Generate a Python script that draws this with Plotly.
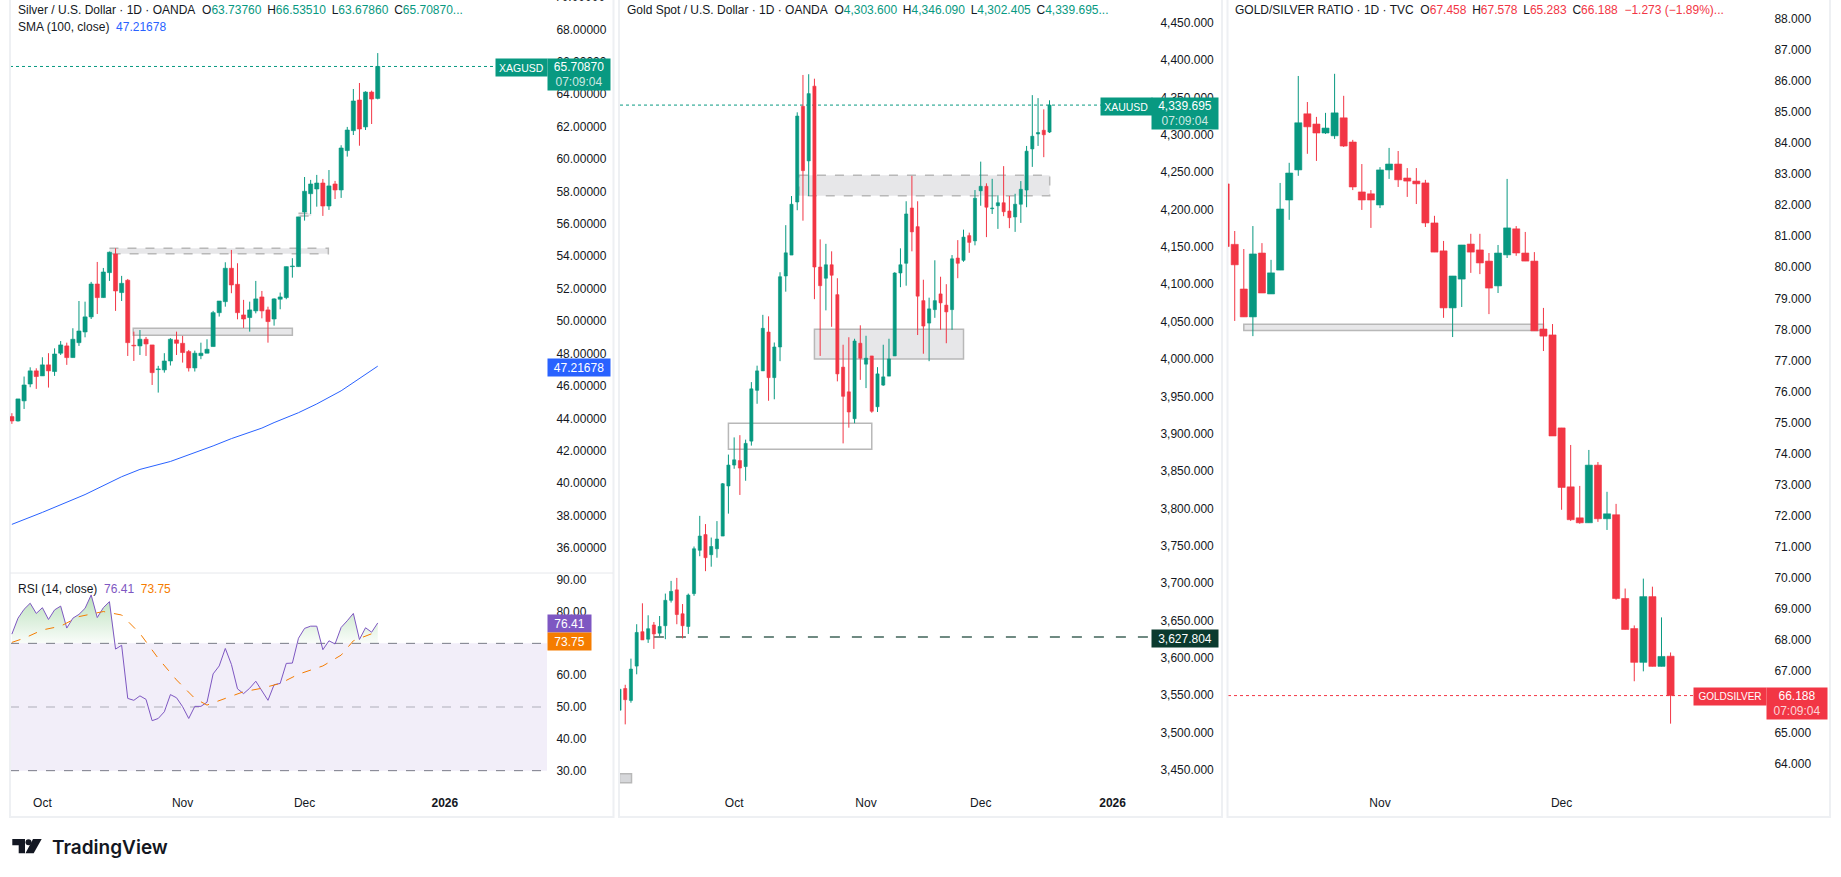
"""Three TradingView daily panes: silver with SMA and RSI, gold spot, gold/silver ratio."""

import plotly.graph_objects as go

WIDTH, HEIGHT = 1841, 877
UP, DOWN = "#089981", "#f23645"
TEXT = "#131722"
FONT = "Liberation Sans"

# silver, 1D, OANDA
SILVER_OPEN = [44.11, 43.84, 45.08, 46.12, 46.93, 46.62, 47.30, 46.89, 48.02, 48.47, 47.75, 48.67, 49.33, 50.26, 52.29, 51.45,
               52.99, 54.14, 51.76, 52.52, 48.51, 48.47, 48.88, 48.53, 47.01, 46.99, 47.54, 48.84, 48.63, 48.12, 47.11, 47.87,
               48.02, 48.43, 50.52, 51.20, 53.26, 52.27, 50.38, 50.22, 50.63, 51.49, 50.69, 50.13, 51.35, 51.45, 53.36, 53.36,
               56.73, 57.86, 58.15, 58.52, 57.10, 58.46, 58.09, 60.52, 61.75, 63.64, 61.98, 64.13, 63.7376]
SILVER_HIGH = [44.32, 45.20, 46.58, 47.15, 47.09, 47.77, 48.02, 48.32, 48.77, 48.67, 49.56, 51.24, 51.20, 52.42, 53.65, 53.28,
               54.29, 54.49, 52.79, 52.60, 49.35, 49.45, 49.02, 48.53, 47.24, 48.02, 48.95, 49.35, 49.09, 48.22, 48.18, 48.67,
               48.88, 50.63, 51.24, 53.63, 54.39, 53.57, 51.31, 51.20, 52.48, 51.86, 50.89, 51.41, 51.76, 53.36, 53.88, 56.43,
               58.89, 58.71, 59.02, 58.77, 59.32, 58.65, 60.85, 61.98, 64.32, 64.69, 64.18, 64.22, 66.5351]
SILVER_LOW = [43.66, 43.80, 44.58, 45.92, 45.82, 46.62, 45.90, 46.62, 47.91, 47.30, 47.75, 48.47, 49.00, 50.13, 50.44, 51.45,
              52.48, 50.63, 51.24, 47.85, 47.54, 47.91, 47.85, 46.06, 45.59, 46.82, 47.26, 47.91, 47.44, 46.89, 46.89, 47.65,
              48.02, 48.43, 50.28, 50.89, 51.72, 50.11, 49.58, 49.35, 50.48, 50.17, 48.67, 49.72, 50.73, 51.35, 52.68, 53.36,
              56.20, 56.61, 57.06, 56.49, 56.86, 57.53, 57.60, 60.15, 61.48, 60.82, 61.79, 62.16, 63.6786]
SILVER_CLOSE = [43.84, 45.20, 46.06, 46.93, 46.58, 47.30, 46.93, 47.97, 48.53, 47.75, 48.88, 49.39, 50.26, 52.29, 51.45, 53.03,
                54.25, 51.86, 52.33, 48.67, 48.47, 48.88, 48.59, 46.82, 47.05, 47.54, 48.88, 48.63, 48.06, 47.11, 48.02, 48.02,
                48.26, 50.52, 51.24, 53.26, 52.23, 50.52, 50.13, 50.69, 51.37, 50.63, 49.97, 51.37, 51.49, 53.36, 53.40, 56.43,
                58.01, 58.46, 58.52, 57.10, 58.34, 58.09, 60.68, 61.79, 63.58, 61.85, 64.13, 63.70, 65.7087]
SMA_BARS = [0, 5, 12, 17, 18, 21, 26, 33, 36, 41, 43, 47, 50, 54, 55, 60]
SMA_VALUES = [37.46, 38.20, 39.30, 40.20, 40.40, 40.85, 41.34, 42.30, 42.75, 43.40, 43.74, 44.35, 44.89, 45.70, 45.95, 47.22]
RSI_VALUES = [72.9, 77.9, 80.7, 82.6, 79.4, 81.2, 77.5, 80.5, 81.7, 74.8, 77.9, 79.1, 81.0, 85.2, 78.1, 81.2,
              83.1, 68.2, 69.4, 52.7, 52.1, 53.5, 52.4, 45.7, 46.4, 48.5, 53.9, 52.9, 50.1, 46.4, 50.2, 50.2,
              51.5, 60.4, 62.9, 68.4, 63.4, 55.7, 54.2, 55.9, 58.1, 55.3, 52.1, 57.0, 57.4, 63.7, 63.8, 71.6,
              74.7, 75.4, 75.4, 68.0, 70.8, 69.8, 75.0, 77.1, 79.4, 71.2, 74.9, 73.5, 76.41]
RSI_MA_BARS = [0, 2, 5, 8, 11, 15, 18, 21, 24, 27, 30, 32, 35, 38, 41, 44, 47, 51, 54, 56, 60]
RSI_MA_VALUES = [70.3, 71.6, 74.2, 75.4, 78.4, 80.0, 78.9, 73.1, 65.3, 58.5, 52.7, 50.6, 52.7, 54.8, 55.9, 57.4, 60.3, 62.9, 66.3, 70.8, 73.75]
SILVER_TICKS = [5, 28, 48, 71]
SILVER_PRICE_TICKS = list(range(36, 70, 2))
RSI_TICKS = [30, 40, 50, 60, 70, 80, 90]

# gold spot, 1D, OANDA
GOLD_OPEN = [3530, 3559, 3543, 3589, 3635, 3625, 3644, 3633, 3643, 3677, 3691, 3659, 3642, 3686, 3744, 3765, 3738, 3746, 3763,
             3830, 3858, 3864, 3856, 3890, 3958, 3984, 4036, 3975, 4016, 4111, 4139, 4210, 4338, 4265, 4365, 4123, 4108, 4126,
             4086, 3989, 3956, 3920, 4021, 3993, 4004, 3936, 3965, 3977, 4004, 4115, 4128, 4202, 4177, 4078, 4048, 4066, 4087,
             4072, 4066, 4135, 4132, 4165, 4158, 4225, 4231, 4201, 4205, 4209, 4198, 4190, 4207, 4226, 4281, 4301, 4306, 4303.6]
GOLD_HIGH = [3578, 3564, 3599, 3645, 3673, 3657, 3648, 3656, 3686, 3703, 3707, 3672, 3686, 3749, 3790, 3779, 3761, 3783, 3834,
             3872, 3895, 3898, 3892, 3969, 3991, 4059, 4057, 4022, 4116, 4179, 4218, 4330, 4380, 4381, 4375, 4160, 4154, 4144,
             4108, 4019, 4029, 4027, 4045, 4031, 4004, 3989, 4019, 4027, 4116, 4148, 4211, 4245, 4211, 4106, 4082, 4132, 4110,
             4100, 4139, 4159, 4173, 4169, 4226, 4264, 4235, 4241, 4219, 4258, 4218, 4221, 4238, 4285, 4353, 4349, 4334, 4346.09]
GOLD_LOW = [3526, 3511, 3540, 3578, 3624, 3620, 3612, 3629, 3625, 3674, 3645, 3626, 3632, 3683, 3736, 3716, 3722, 3734, 3763,
            3793, 3853, 3818, 3837, 3884, 3940, 3984, 3944, 3946, 3997, 4090, 4139, 4199, 4185, 4218, 4080, 4004, 4065, 4043,
            3970, 3887, 3908, 3914, 3972, 3961, 3928, 3929, 3964, 3977, 4004, 4096, 4098, 4144, 4032, 4007, 3997, 4055, 4039,
            4021, 4039, 4108, 4130, 4142, 4152, 4205, 4163, 4194, 4174, 4191, 4175, 4170, 4182, 4203, 4257, 4285, 4270, 4302.405]
GOLD_CLOSE = [3558, 3544, 3585, 3634, 3624, 3639, 3632, 3642, 3677, 3689, 3658, 3643, 3684, 3746, 3763, 3734, 3749, 3759, 3833,
              3858, 3865, 3854, 3887, 3960, 3984, 4041, 3975, 4016, 4110, 4142, 4207, 4325, 4252, 4355, 4123, 4098, 4126, 4112,
              3980, 3950, 3929, 4024, 4001, 4001, 3930, 3980, 3976, 4000, 4115, 4126, 4194, 4170, 4084, 4044, 4067, 4078, 4075,
              4063, 4134, 4128, 4163, 4156, 4215, 4231, 4203, 4202, 4209, 4197, 4189, 4207, 4227, 4278, 4298, 4303, 4300, 4339.695]
GOLD_TICKS = [20, 43, 63, 86]
GOLD_PRICE_TICKS = list(range(3450, 4500, 50))
GOLD_LEVEL = 3627.804

# gold/silver ratio, 1D, TVC
RATIO_OPEN = [82.69, 80.74, 79.30, 78.40, 80.46, 79.14, 79.91, 82.17, 83.14, 84.95, 84.62, 84.33, 84.24, 84.82, 84.04, 82.43, 82.37,
              82.01, 83.14, 83.33, 82.88, 82.78, 82.72, 81.43, 80.53, 78.69, 79.62, 80.75, 80.56, 80.20, 79.40, 80.40, 81.24, 80.46,
              80.20, 78.01, 77.82, 74.82, 72.92, 71.92, 71.76, 73.62, 71.89, 72.02, 69.32, 68.35, 67.26, 69.38, 67.13, 67.458]
RATIO_HIGH = [82.69, 81.17, 80.59, 81.33, 80.78, 80.24, 82.72, 83.37, 86.17, 85.33, 84.85, 84.98, 86.24, 85.53, 84.11, 83.33, 82.49,
              83.23, 83.85, 83.75, 83.20, 83.20, 82.82, 81.66, 80.85, 79.72, 80.72, 81.08, 81.08, 80.46, 80.72, 82.85, 81.33, 81.14,
              80.49, 78.69, 78.17, 74.82, 74.27, 72.95, 74.11, 73.72, 72.76, 72.37, 69.64, 68.45, 69.96, 69.70, 68.71, 67.578]
RATIO_LOW = [80.67, 78.27, 78.40, 77.78, 79.17, 79.14, 79.91, 81.53, 82.95, 83.66, 83.43, 84.30, 84.14, 83.88, 82.49, 81.85, 81.27,
             81.91, 82.85, 82.59, 82.27, 82.04, 81.30, 80.49, 78.37, 77.75, 78.72, 79.82, 79.78, 78.49, 79.17, 80.30, 80.37, 80.20,
             77.95, 77.30, 74.56, 72.18, 71.82, 71.73, 71.76, 71.79, 71.53, 69.28, 68.32, 66.65, 66.97, 67.13, 67.13, 65.283]
RATIO_CLOSE = [80.67, 80.08, 78.40, 80.43, 79.17, 79.82, 81.88, 83.04, 84.66, 84.53, 84.33, 84.49, 84.98, 83.91, 82.59, 82.17, 82.17,
               83.14, 83.33, 82.82, 82.78, 82.69, 81.43, 80.49, 78.69, 79.72, 80.72, 80.49, 80.14, 79.33, 80.46, 81.27, 80.46, 80.20,
               77.95, 77.78, 74.56, 72.90, 71.86, 71.76, 73.62, 71.89, 72.05, 69.32, 68.32, 67.26, 69.38, 67.13, 67.45, 66.188]
RATIO_TICKS = [17, 37]
RATIO_PRICE_TICKS = list(range(64, 89))


def px_x(px):
    return px / WIDTH


def px_y(py):
    return 1 - py / HEIGHT


def add_candles(fig, opens, highs, lows, closes, axes, body_width):
    xaxis, yaxis = axes
    for color, keep in ((UP, lambda o, c: c >= o), (DOWN, lambda o, c: c < o)):
        bars = [i for i, (o, c) in enumerate(zip(opens, closes)) if keep(o, c)]
        wick_x, wick_y = [], []
        for i in bars:
            wick_x += [i, i, None]
            wick_y += [lows[i], highs[i], None]
        fig.add_trace(go.Scatter(x=wick_x, y=wick_y, mode="lines", line={"color": color, "width": 1},
                                 xaxis=xaxis, yaxis=yaxis, hoverinfo="skip"))
        fig.add_trace(go.Bar(x=bars, y=[abs(closes[i] - opens[i]) for i in bars],
                             base=[min(opens[i], closes[i]) for i in bars], width=body_width,
                             marker={"color": color, "line": {"color": color, "width": 0.6}},
                             xaxis=xaxis, yaxis=yaxis, hoverinfo="skip"))


def zone(fig, axes, bars, prices, dash="solid", fill="rgba(120,123,134,0.18)"):
    # grey support / resistance boxes drawn by hand on the chart
    fig.add_shape(type="rect", xref=axes[0], yref=axes[1], x0=bars[0], x1=bars[1], y0=prices[0], y1=prices[1],
                  fillcolor=fill, line={"color": "#b8b8b8", "width": 1.5, "dash": dash}, layer="below")


def last_price_line(fig, axes, price, color):
    fig.add_shape(type="line", xref=f"{axes[0]} domain", yref=axes[1], x0=0, x1=1, y0=price, y1=price,
                  line={"color": color, "width": 1, "dash": "dot"}, layer="below")


def axis_tag(fig, yref, price, text, left, width, color, rows=1, nudge=0, size=12):
    height = 17 if rows == 1 else 31
    fig.add_annotation(xref="paper", yref=yref, x=px_x(left), y=price, text=text, showarrow=False,
                       xanchor="left", yanchor="top", yshift=8.5 + nudge, width=width, height=height, bgcolor=color,
                       borderpad=0, align="center", font={"family": FONT, "size": size, "color": "white"})


def price_time(price_text):
    return f"{price_text}<br><span style='color:rgba(255,255,255,0.8)'>07:09:04</span>"


def legend_line(fig, left, top, text):
    fig.add_annotation(xref="paper", yref="paper", x=px_x(left - 2), y=px_y(top), text=text, showarrow=False,
                       xanchor="left", yanchor="middle", align="left", font={"family": FONT, "size": 12, "color": TEXT})


def ohlc_text(title, values, color, tail="..."):
    sp = "\u00a0"
    gap = "\u00a0\u2009"
    parts = [f"{key}<span style='color:{color}'>{value}</span>" for key, value in values]
    return f"{title}{sp}{sp}" + gap.join(parts) + f"<span style='color:{color}'>{tail}</span>"


fig = go.Figure()

# ---- silver pane ----
add_candles(fig, SILVER_OPEN, SILVER_HIGH, SILVER_LOW, SILVER_CLOSE, ("x", "y"), 0.68)
fig.add_trace(go.Scatter(x=SMA_BARS, y=SMA_VALUES, mode="lines", line={"color": "#2962ff", "width": 1},
                         xaxis="x", yaxis="y", hoverinfo="skip"))
zone(fig, ("x", "y"), (16, 51.9), (54.49, 54.16), dash="dash")
zone(fig, ("x", "y"), (19.9, 46), (49.56, 49.13))
zone(fig, ("x", "y"), (47, 49.1), (56.65, 56.49), dash="dash")
last_price_line(fig, ("x", "y"), SILVER_CLOSE[-1], UP)

# RSI with the overbought gradient: split the curve where it crosses 70
grad_x, grad_y = [], []
for i, value in enumerate(RSI_VALUES):
    if i and (RSI_VALUES[i - 1] - 70) * (value - 70) < 0:
        grad_x.append(i - 1 + (70 - RSI_VALUES[i - 1]) / (value - RSI_VALUES[i - 1]))
        grad_y.append(70)
    grad_x.append(i)
    grad_y.append(max(value, 70))
fig.add_trace(go.Scatter(x=grad_x, y=[70] * len(grad_x), mode="lines", line={"width": 0},
                         xaxis="x2", yaxis="y2", hoverinfo="skip"))
fig.add_trace(go.Scatter(x=grad_x, y=grad_y, mode="lines", line={"width": 0}, fill="tonexty",
                         fillgradient={"type": "vertical", "start": 70, "stop": 85,
                                       "colorscale": [[0, "rgba(76,175,80,0.03)"], [1, "rgba(76,175,80,0.38)"]]},
                         xaxis="x2", yaxis="y2", hoverinfo="skip"))
fig.add_trace(go.Scatter(x=list(range(len(RSI_VALUES))), y=RSI_VALUES, mode="lines", line={"color": "#7e57c2", "width": 1},
                         xaxis="x2", yaxis="y2", hoverinfo="skip"))
fig.add_trace(go.Scatter(x=RSI_MA_BARS, y=RSI_MA_VALUES, mode="lines", line={"color": "#f57c00", "width": 1, "dash": "dash"},
                         xaxis="x2", yaxis="y2", hoverinfo="skip"))
fig.add_shape(type="rect", xref="x2 domain", yref="y2", x0=0, x1=1, y0=30, y1=70,
              fillcolor="rgba(126,87,194,0.1)", line={"width": 0}, layer="below")
for level, color in ((70, "#787b86"), (50, "rgba(120,123,134,0.55)"), (30, "#787b86")):
    fig.add_shape(type="line", xref="x2 domain", yref="y2", x0=0, x1=1, y0=level, y1=level,
                  line={"color": color, "width": 1, "dash": "dash"}, layer="below")

# ---- gold pane ----
add_candles(fig, GOLD_OPEN, GOLD_HIGH, GOLD_LOW, GOLD_CLOSE, ("x3", "y3"), 0.55)
zone(fig, ("x3", "y3"), (31.3, 75.03), (4245.7, 4218.5), dash="dash")
zone(fig, ("x3", "y3"), (34, 60), (4039.6, 4000))
zone(fig, ("x3", "y3"), (19, 44), (3914, 3879), fill="rgba(0,0,0,0)")
zone(fig, ("x3", "y3"), (0, 2.1), (3445, 3433), fill="rgba(120,123,134,0.3)")
last_price_line(fig, ("x3", "y3"), GOLD_CLOSE[-1], UP)
fig.add_shape(type="line", xref="x3", yref="y3", x0=6, x1=92.7, y0=GOLD_LEVEL, y1=GOLD_LEVEL,
              line={"color": "#6f8a82", "width": 2, "dash": "10px 12px"}, layer="below")

# ---- ratio pane ----
add_candles(fig, RATIO_OPEN, RATIO_HIGH, RATIO_LOW, RATIO_CLOSE, ("x4", "y4"), 0.78)
zone(fig, ("x4", "y4"), (2, 35), (78.16, 77.96))
last_price_line(fig, ("x4", "y4"), RATIO_CLOSE[-1], DOWN)

# ---- axes ----
def xaxis(left, right, anchor, bar_range, ticks=None, labels=None):
    axis = {"domain": [px_x(left), px_x(right)], "range": bar_range, "anchor": anchor, "showgrid": False,
            "zeroline": False, "showline": False, "fixedrange": True}
    if ticks is None:
        axis["visible"] = False
    else:
        axis.update(tickmode="array", tickvals=ticks, ticktext=labels, ticks="outside", ticklen=5,
                    tickcolor="rgba(0,0,0,0)", tickfont={"family": FONT, "size": 12, "color": TEXT})
    return axis


def yaxis(top, bottom, anchor, price_range, ticks, fmt, standoff=6):
    return {"domain": [px_y(bottom), px_y(top)], "range": price_range, "anchor": anchor, "side": "right",
            "showgrid": False, "zeroline": False, "showline": False, "fixedrange": True,
            "tickmode": "array", "tickvals": ticks, "tickformat": fmt, "ticks": "outside", "ticklen": standoff,
            "tickcolor": "rgba(0,0,0,0)", "tickfont": {"family": FONT, "size": 12, "color": TEXT}}


fig.update_layout(
    width=WIDTH, height=HEIGHT, margin={"l": 0, "r": 0, "t": 0, "b": 0, "autoexpand": False},
    paper_bgcolor="white", plot_bgcolor="rgba(0,0,0,0)", showlegend=False, barmode="overlay",
    font={"family": FONT},
    xaxis=xaxis(10, 547, "y", [-0.31, 87.76]),
    yaxis=yaxis(0, 573, "x", [34.46, 69.81], SILVER_PRICE_TICKS, ".5f"),
    xaxis2=xaxis(10, 547, "y2", [-0.31, 87.76], SILVER_TICKS, ["Oct", "Nov", "Dec", "<b>2026</b>"]),
    yaxis2=yaxis(573, 787, "x2", [24.87, 92.1], RSI_TICKS, ".2f"),
    xaxis3=xaxis(620, 1151, "y3", [0.09, 92.7], GOLD_TICKS, ["Oct", "Nov", "Dec", "<b>2026</b>"]),
    yaxis3=yaxis(0, 787, "x3", [3427.2, 4480.3], GOLD_PRICE_TICKS, ",.3f"),
    xaxis4=xaxis(1228, 1765, "y4", [0.26, 59.4], RATIO_TICKS, ["Nov", "Dec"]),
    yaxis4=yaxis(0, 787, "x4", [63.24, 88.62], RATIO_PRICE_TICKS, ".3f"),
)

# pane frames and the RSI divider
for left, right in ((10, 613.5), (619, 1222), (1227.5, 1830)):
    fig.add_shape(type="rect", xref="paper", yref="paper", x0=px_x(left), x1=px_x(right), y0=px_y(817), y1=px_y(-3),
                  line={"color": "#eef0f3", "width": 2}, layer="below")
fig.add_shape(type="line", xref="paper", yref="paper", x0=px_x(10), x1=px_x(613), y0=px_y(573), y1=px_y(573),
              line={"color": "#e6e8ec", "width": 1}, layer="below")

# legends
legend_line(fig, 18, 10, ohlc_text("Silver / U.S. Dollar · 1D · OANDA",
                                   [("O", "63.73760"), ("H", "66.53510"), ("L", "63.67860"), ("C", "65.70870")], UP))
legend_line(fig, 18, 27, "SMA (100, close)\u00a0\u00a0<span style='color:#2962ff'>47.21678</span>")
legend_line(fig, 18, 589, "RSI (14, close)\u00a0\u00a0<span style='color:#7e57c2'>76.41</span>"
                          "\u00a0\u00a0<span style='color:#f57c00'>73.75</span>")
legend_line(fig, 627, 10, ohlc_text("Gold Spot / U.S. Dollar · 1D · OANDA",
                                    [("O", "4,303.600"), ("H", "4,346.090"), ("L", "4,302.405"), ("C", "4,339.695")], UP))
legend_line(fig, 1235, 10, ohlc_text("GOLD/SILVER RATIO · 1D · TVC",
                                     [("O", "67.458"), ("H", "67.578"), ("L", "65.283"), ("C", "66.188")], DOWN,
                                     tail="\u00a0\u00a0−1.273 (−1.89%)..."))

# axis tags
axis_tag(fig, "y", SILVER_CLOSE[-1], "XAGUSD", 495, 51, UP, size=10.5)
axis_tag(fig, "y", SILVER_CLOSE[-1], price_time("65.70870"), 547, 62, UP, rows=2)
axis_tag(fig, "y", SMA_VALUES[-1], "47.21678", 547, 62, "#2962ff")
axis_tag(fig, "y2", RSI_VALUES[-1], "76.41", 547, 43, "#7e57c2")
axis_tag(fig, "y2", RSI_MA_VALUES[-1], "73.75", 547, 43, "#f57c00", nudge=-9)
axis_tag(fig, "y3", GOLD_CLOSE[-1], "XAUUSD", 1099.5, 50.5, UP, size=10.5)
axis_tag(fig, "y3", GOLD_CLOSE[-1], price_time("4,339.695"), 1151, 66, UP, rows=2)
axis_tag(fig, "y3", GOLD_LEVEL, "3,627.804", 1151, 66, "#0b3a2e")
axis_tag(fig, "y4", RATIO_CLOSE[-1], "GOLDSILVER", 1693, 72, DOWN, size=10)
axis_tag(fig, "y4", RATIO_CLOSE[-1], price_time("66.188"), 1766, 60, DOWN, rows=2)
fig.add_annotation(xref="paper", yref="paper", x=px_x(553), y=px_y(-3), text="70.00000", showarrow=False,
                   xanchor="left", yanchor="middle", font={"family": FONT, "size": 12, "color": TEXT})

# TradingView mark
def px_path(points):
    return "M" + " L".join(f"{px_x(x):.5f},{px_y(y):.5f}" for x, y in points) + " Z"


for points in ([(12.3, 839), (25, 839), (25, 853.3), (18.7, 853.3), (18.7, 845.2), (12.3, 845.2)],
               [(33, 839), (41.7, 839), (33.7, 853.3), (25.5, 853.3)]):
    fig.add_shape(type="path", xref="paper", yref="paper", path=px_path(points), fillcolor="#131722", line={"width": 0})
fig.add_shape(type="circle", xref="paper", yref="paper", x0=px_x(25.5), x1=px_x(31.5), y0=px_y(845.3), y1=px_y(839.3),
              fillcolor="#131722", line={"width": 0})
fig.add_annotation(xref="paper", yref="paper", x=px_x(50), y=px_y(847.5), text="TradingView", showarrow=False,
                   xanchor="left", yanchor="middle", font={"family": "Inter", "size": 19, "color": "#131722", "weight": 600})

fig.write_html("out.html", config={"displayModeBar": False},
               post_script="document.body.style.margin='0';document.body.style.overflow='hidden';")
